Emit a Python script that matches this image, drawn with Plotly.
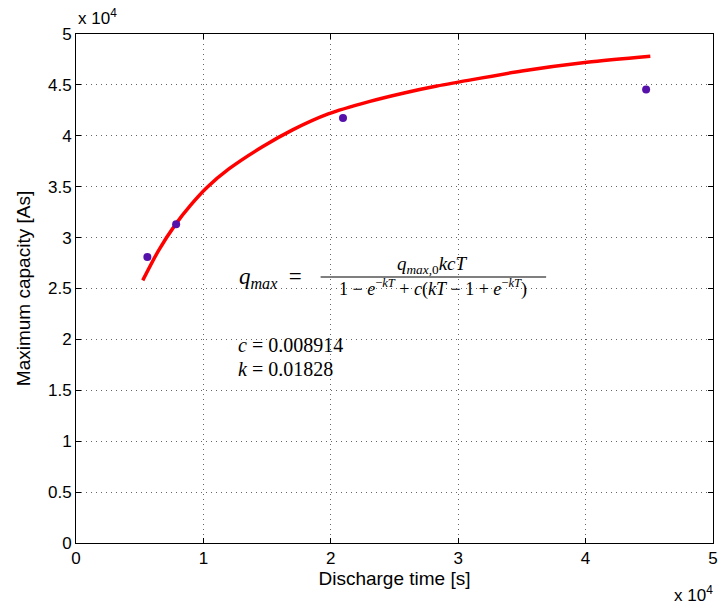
import plotly.graph_objects as go

# measured points
meas_t = [5603, 7860, 20957, 44750]
meas_q = [28100, 31305, 41737, 44554]

# fitted curve
fit_t = [5240, 6500, 7840, 9000, 10300, 12000, 14600, 17000, 19800, 23000,
         25755, 28330, 30000, 35000, 40100, 45080]
fit_q = [25800, 28775, 31350, 33195, 34950, 36743, 38900, 40583, 42150, 43360,
         44210, 44890, 45270, 46370, 47230, 47820]

x_ticks = [0, 10000, 20000, 30000, 40000, 50000]
x_labels = ["0", "1", "2", "3", "4", "5"]
y_ticks = [0, 5000, 10000, 15000, 20000, 25000, 30000, 35000, 40000, 45000, 50000]
y_labels = ["0", "0.5", "1", "1.5", "2", "2.5", "3", "3.5", "4", "4.5", "5"]

fig = go.Figure()
fig.add_trace(go.Scatter(x=fit_t, y=fit_q, mode="lines",
                         line=dict(color="#ff0000", width=3.5, shape="spline", smoothing=0.8),
                         showlegend=False, hoverinfo="skip"))
fig.add_trace(go.Scatter(x=meas_t, y=meas_q, mode="markers",
                         marker=dict(color="#5511aa", size=8),
                         showlegend=False))

sans = "Liberation Sans, Arial, sans-serif"
axis_common = dict(showline=True, linecolor="black", linewidth=1, mirror="ticks",
                   ticks="inside", ticklen=5, tickcolor="black",
                   showgrid=True, gridcolor="#666666", griddash="1px,4px", gridwidth=1,
                   zeroline=False,
                   tickfont=dict(family=sans, size=17, color="black"))

fig.update_xaxes(range=[0, 50000], tickvals=x_ticks, ticktext=x_labels,
                 title=dict(text="Discharge time [s]", standoff=4,
                            font=dict(family=sans, size=19, color="black")),
                 **axis_common)
fig.update_yaxes(range=[0, 50000], tickvals=y_ticks, ticktext=y_labels,
                 title=dict(text="Maximum capacity [As]", standoff=12,
                            font=dict(family=sans, size=19, color="black")),
                 **axis_common)

serif = "Liberation Serif, DejaVu Serif, serif"
ann = []
ann.append(dict(text="x 10<sup>4</sup>", x=0.0, y=1.0, xref="paper", yref="paper",
                xanchor="left", yanchor="bottom", yshift=4, showarrow=False,
                font=dict(family=sans, size=17, color="black")))
ann.append(dict(text="x 10<sup>4</sup>", x=1.0, y=0.0, xref="paper", yref="paper",
                xanchor="right", yanchor="top", yshift=-38, xshift=2, showarrow=False,
                font=dict(family=sans, size=17, color="black")))
ann.append(dict(text="<i>q<sub>max</sub></i>\u2002=", x=0.2523, y=0.5206, xref="paper", yref="paper",
                xanchor="left", yanchor="middle", showarrow=False,
                font=dict(family=serif, size=23, color="black")))
ann.append(dict(text="<i>q<sub>max,</sub></i><sub>0</sub><i>kcT</i>", x=0.559, y=0.518,
                xref="paper", yref="paper", xanchor="center", yanchor="bottom", showarrow=False,
                font=dict(family=serif, size=19, color="black")))
ann.append(dict(text="1 \u2212 <i>e</i><sup>\u2212<i>kT</i></sup> + <i>c</i>(<i>kT</i> \u2212 1 + <i>e</i><sup>\u2212<i>kT</i></sup>)",
                x=0.561, y=0.528, xref="paper", yref="paper", xanchor="center", yanchor="top",
                showarrow=False, font=dict(family=serif, size=18, color="black")))
ann.append(dict(text="<i>c</i> = 0.008914", x=0.2505, y=0.389, xref="paper", yref="paper",
                xanchor="left", yanchor="middle", showarrow=False,
                font=dict(family=serif, size=20, color="black")))
ann.append(dict(text="<i>k</i> = 0.01828", x=0.2505, y=0.341, xref="paper", yref="paper",
                xanchor="left", yanchor="middle", showarrow=False,
                font=dict(family=serif, size=20, color="black")))

fig.update_layout(
    width=723, height=608,
    margin=dict(l=76, r=5, t=34, b=65),
    paper_bgcolor="white", plot_bgcolor="white",
    annotations=ann,
    shapes=[dict(type="line", xref="paper", yref="paper", x0=0.384, x1=0.738,
                 y0=0.5226, y1=0.5226, line=dict(color="#555555", width=1.5))],
)

fig.write_html("out.html")
